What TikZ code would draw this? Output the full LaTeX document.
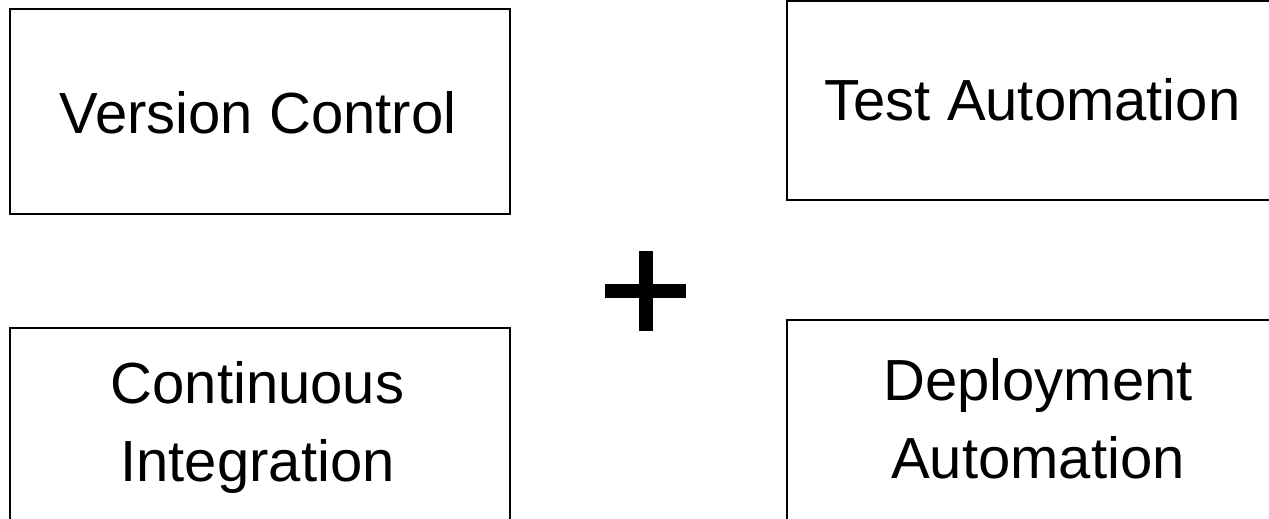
\documentclass[tikz,border=0pt]{standalone}
\usepackage{fontspec}
\setmainfont{Liberation Sans}
\tikzset{
  boxnode/.style={draw=black, line width=2pt, rectangle, outer sep=0pt, inner sep=0pt, anchor=north west},
  lbl/.style={font=\fontsize{58}{70}\selectfont, anchor=base, inner sep=0pt, outer sep=0pt}
}
\begin{document}
\begin{tikzpicture}[x=1pt,y=-1pt]
\useasboundingbox (0,0) rectangle (1269,519);
\clip (0,0) rectangle (1269,519);
\fill[white] (0,0) rectangle (1269,519);
% boxes
\node[boxnode, minimum width=499.5pt, minimum height=204.5pt] (vcbox) at (10,9.5) {};
\node[boxnode, minimum width=492pt, minimum height=198.5pt] (tabox) at (786.5,1.5) {};
\node[boxnode, minimum width=499.5pt, minimum height=230pt] (cibox) at (10,327.5) {};
\node[boxnode, minimum width=503pt, minimum height=230pt] (dabox) at (786.5,319.5) {};
% labels
\node[lbl] (vc) at (258,133) {Version Control};
\node[lbl] (ta) at (1032.5,121) {Test Automation};
\node[lbl] (ci1) at (257.5,403) {Continuous};
\node[lbl] (ci2) at (257.5,481) {Integration};
\node[lbl] (da1) at (1038,400) {Deployment};
\node[lbl] (da2) at (1038,478) {Automation};
% plus sign
\fill[black] (605,284.3) rectangle (686,298.3);
\fill[black] (639,251) rectangle (653,331);
\end{tikzpicture}
\end{document}
